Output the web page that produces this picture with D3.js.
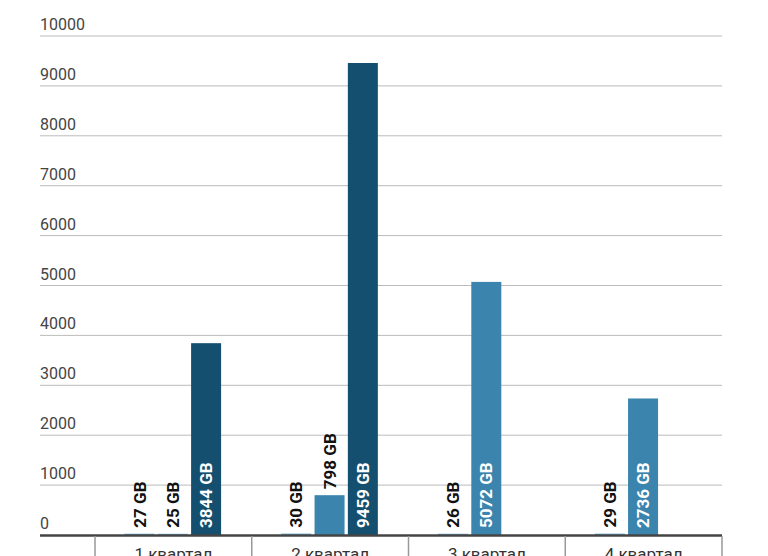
<!DOCTYPE html><html><head><meta charset="utf-8"><script src="https://cdn.jsdelivr.net/npm/d3@7"></script>
<style>body{margin:0;background:#fff}text{font-family:Roboto,sans-serif}</style></head><body><svg width="768" height="556"></svg><script>
const quarters=["1 квартал","2 квартал","3 квартал","4 квартал"];
const series1=[27,30,26,29];
const series2=[25,798,5072,2736];
const series3=[3844,9459,null,null];
const yTicks=[0,1000,2000,3000,4000,5000,6000,7000,8000,9000,10000];
const svg=d3.select("svg");
const x=d3.scaleBand().domain(quarters).range([95,722]).padding(0);
const y=d3.scaleLinear().domain([0,10000]).range([535,36]);
svg.append("g").selectAll("line").data(yTicks.slice(1)).join("line").attr("x1",40).attr("x2",722).attr("y1",d=>y(d)).attr("y2",d=>y(d)).attr("stroke","#bbb").attr("stroke-width",1);
svg.append("g").selectAll("text").data(yTicks).join("text").attr("x",40).attr("y",d=>y(d)-6).text(d=>d).attr("font-size",16).attr("fill","#444");
const bars=[];
quarters.forEach((q,i)=>{[series1,series2,series3].forEach((s,k)=>{if(s[i]!=null)bars.push({q,k,v:s[i]});});});
const color=b=>b.k===2?"#154f6f":(b.k===1&&b.v>100?"#3a84ad":"#7ab8dd");
const bw=30, off=29.5, step=33.3;
const bx=b=>x(b.q)+off+b.k*step;
svg.append("g").selectAll("rect").data(bars).join("rect").attr("x",bx).attr("width",bw).attr("y",d=>y(d.v)).attr("height",d=>535-y(d.v)).attr("fill",color);
svg.append("g").selectAll("text").data(bars).join("text").attr("transform",d=>{const inside=d.v>2000;const yy=inside?528:y(d.v)-6;return `translate(${bx(d)+bw/2+6},${yy}) rotate(-90)`;})
.text(d=>d.v+" GB").attr("font-size",17).attr("font-weight","bold").attr("fill",d=>d.v>2000?"#fff":"#111");
svg.append("line").attr("x1",40).attr("x2",722).attr("y1",535.5).attr("y2",535.5).attr("stroke","#444").attr("stroke-width",2.5);
svg.append("g").selectAll("line").data([...quarters.map(q=>x(q)),722]).join("line").attr("x1",d=>d).attr("x2",d=>d).attr("y1",536).attr("y2",556).attr("stroke","#999").attr("stroke-width",1.5);
svg.append("g").selectAll("text").data(quarters).join("text").attr("x",d=>x(d)+x.bandwidth()/2).attr("y",560).attr("text-anchor","middle").attr("font-size",17).attr("fill","#333").text(d=>d);
</script></body></html>
